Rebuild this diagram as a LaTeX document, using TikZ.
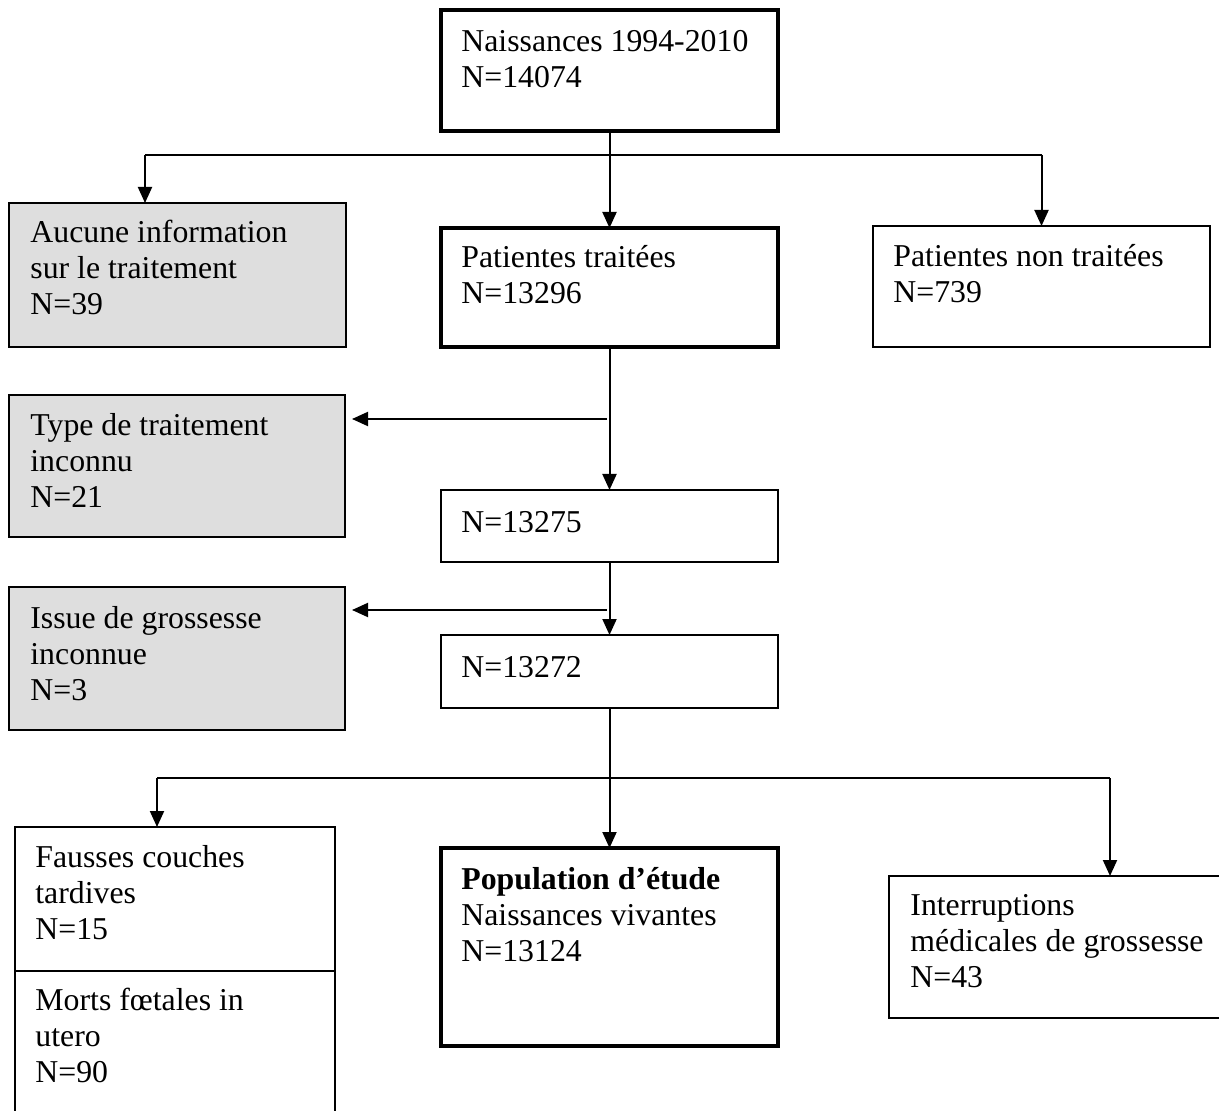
\documentclass[tikz,border=0pt]{standalone}
\usepackage{fontspec}
\setmainfont{Liberation Serif}
\usetikzlibrary{arrows.meta,calc}
\definecolor{boxgray}{RGB}{222,222,222}
\newcommand\mytxt[1]{\begin{tabular}[t]{@{}l@{}}#1\end{tabular}}
\begin{document}
\begin{tikzpicture}[x=0.5pt,y=-0.5pt,
  box/.style={draw, line width=1pt, anchor=north west, inner sep=0pt, outer sep=0pt},
  thickbox/.style={box, line width=1.8pt},
  graybox/.style={box, fill=boxgray},
  txt/.style={anchor=base west, inner sep=0pt, font=\fontsize{15.9}{18}\selectfont},
  arr/.style={-{Triangle[length=8pt,width=7pt]}, line width=1pt},
  ln/.style={line width=1pt}]
\clip (0,0) rectangle (1219,1111);
\fill[white] (0,0) rectangle (1219,1111);
% boxes
\node[thickbox, minimum width=168.5pt, minimum height=60.5pt] (top) at (441,10) {};
\node[graybox, minimum width=168.5pt, minimum height=72pt] (auc) at (9,203) {};
\node[thickbox, minimum width=168.5pt, minimum height=59.5pt] (pt) at (441,228) {};
\node[box, minimum width=168.5pt, minimum height=60.5pt] (nt) at (873,226) {};
\node[graybox, minimum width=168pt, minimum height=71pt] (typ) at (9,395) {};
\node[box, minimum width=168.5pt, minimum height=36pt] (n1) at (441,490) {};
\node[graybox, minimum width=168pt, minimum height=71.5pt] (iss) at (9,587) {};
\node[box, minimum width=168.5pt, minimum height=36.5pt] (n2) at (441,635) {};
\node[box, minimum width=160pt, minimum height=72pt] (fc) at (15,827) {};
\node[box, minimum width=160pt, minimum height=80pt] (mf) at (15,971) {};
\node[thickbox, minimum width=168.5pt, minimum height=99pt] (pop) at (441,848) {};
\node[box, minimum width=210pt, minimum height=71pt] (ir) at (889,876) {};
% texts
\node[txt] (ttop) at ($(top.north west)+(20,42)$) {\mytxt{Naissances 1994-2010\\N=14074}};
\node[txt] (tauc) at ($(auc.north west)+(21,40)$) {\mytxt{Aucune information\\sur le traitement\\N=39}};
\node[txt] (tpt) at ($(pt.north west)+(20,40)$) {\mytxt{Patientes traitées\\N=13296}};
\node[txt] (tnt) at ($(nt.north west)+(20,41)$) {\mytxt{Patientes non traitées\\N=739}};
\node[txt] (ttyp) at ($(typ.north west)+(21,41)$) {\mytxt{Type de traitement\\inconnu\\N=21}};
\node[txt] (tn1) at ($(n1.north west)+(20,42)$) {\mytxt{N=13275}};
\node[txt] (tiss) at ($(iss.north west)+(21,41)$) {\mytxt{Issue de grossesse\\inconnue\\N=3}};
\node[txt] (tn2) at ($(n2.north west)+(20,42)$) {\mytxt{N=13272}};
\node[txt] (tfc) at ($(fc.north west)+(20,40)$) {\mytxt{Fausses couches\\tardives\\N=15}};
\node[txt] (tmf) at ($(mf.north west)+(20,39)$) {\mytxt{Morts fœtales in\\utero\\N=90}};
\node[txt] (tpop) at ($(pop.north west)+(20,41)$) {\mytxt{\textbf{Population d’étude}\\Naissances vivantes\\N=13124}};
\node[txt] (tir) at ($(ir.north west)+(21,39)$) {\mytxt{Interruptions\\médicales de grossesse\\N=43}};
% connectors
\coordinate (ja) at (145,155);
\coordinate (jb) at (157,778);
\coordinate (j2) at (607,419);
\coordinate (j3) at (607,610);
\draw[ln] (ja) -- (ja -| nt.north);
\draw[arr] (ja) -- (ja |- auc.north);
\draw[arr] (ja -| nt.north) -- (nt.north);
\draw[arr] (top.south) -- (pt.north);
\draw[arr] (pt.south) -- (n1.north);
\draw[arr, shorten >=3.5pt] (j2) -- (j2 -| typ.east);
\draw[arr] (n1.south) -- (n2.north);
\draw[arr, shorten >=3.5pt] (j3) -- (j3 -| iss.east);
\draw[arr] (n2.south) -- (pop.north);
\coordinate (jc) at (1110,778);
\draw[ln] (jb) -- (jc);
\draw[arr] (jb) -- (jb |- fc.north);
\draw[arr] (jc) -- (jc |- ir.north);
\end{tikzpicture}
\end{document}
